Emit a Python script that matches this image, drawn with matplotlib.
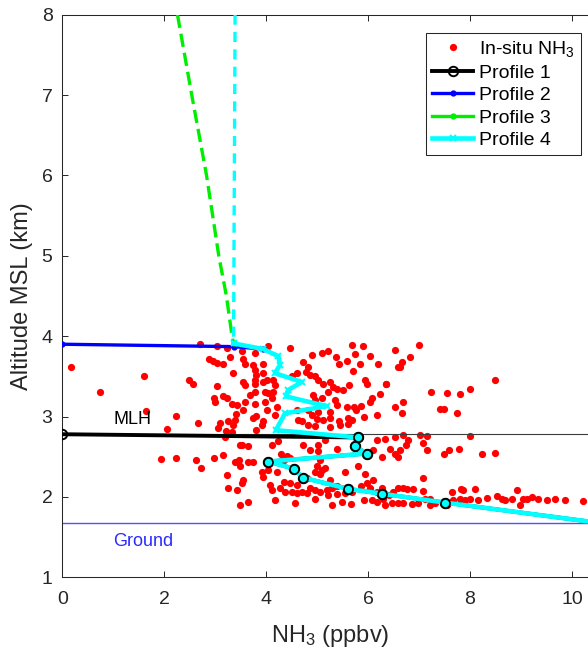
import numpy as np
import matplotlib
matplotlib.use('Agg')
import matplotlib.pyplot as plt

plt.rcParams['font.family'] = ['Liberation Sans', 'DejaVu Sans']
plt.rcParams['mathtext.default'] = 'regular'

# in-situ NH3 (ppbv) vs altitude (km)
insitu_x = [0.18, 2.70, 3.03, 3.23, 2.88, 2.96, 3.04, 3.16, 3.29, 3.34, 1.60, 2.49, 2.57, 3.03, 0.73, 3.16,
            3.23, 2.98, 3.00, 3.33, 1.64, 2.24, 3.41, 2.66, 3.09, 3.06, 3.26, 3.34, 2.05, 3.21, 3.32, 3.19,
            3.49, 1.93, 2.24, 2.62, 2.72, 2.98, 3.15, 3.39, 3.47, 3.24, 3.25, 3.42, 3.49, 3.49,
            4.04, 4.47, 4.89, 5.09, 5.22, 5.37, 5.42, 5.68, 5.89, 5.74, 5.58, 6.04, 5.84, 6.20, 5.71, 4.73,
            4.83, 4.78, 4.86, 4.96, 5.02, 5.12, 5.25, 5.32, 5.38, 5.22, 4.92, 4.96, 5.09, 5.35, 5.38, 5.25,
            5.02, 4.89, 4.99, 5.11, 5.25, 5.43, 5.61, 5.68, 5.76, 5.72, 5.87, 6.04, 6.07, 6.23, 5.97, 5.94,
            6.36, 5.63, 5.51, 4.60, 4.50, 3.55, 3.58, 3.75, 3.94, 3.78, 3.81, 3.94, 4.01, 3.78, 3.55, 3.58,
            3.78, 3.94, 4.14, 4.17, 3.98, 4.04, 4.14, 3.78, 3.68, 4.11, 3.58, 3.55, 3.78, 3.98, 4.01, 4.21,
            3.42, 3.39, 3.81, 3.75, 3.94, 4.17, 4.60, 4.63, 4.70, 4.83, 5.58, 5.91, 6.17, 3.52, 3.78,
            6.53, 7.00, 6.82, 6.67, 6.58, 6.63, 6.35, 8.48, 8.00,
            7.23, 7.54, 7.80, 6.53, 6.69, 6.66, 7.41, 7.49, 7.74, 7.99, 7.02, 7.15, 6.69, 6.53, 6.33, 6.79,
            6.74, 7.08, 7.15, 6.43, 6.63, 6.53, 6.59, 7.49, 7.59, 7.79, 8.23, 8.48, 7.07, 8.92, 6.59, 6.68,
            6.76, 6.89, 7.07, 7.64, 7.82, 7.87, 8.10, 6.49, 6.40, 6.30, 6.33, 6.46, 6.59, 6.69, 6.86, 6.98,
            7.21, 7.31, 7.12, 7.21, 7.67, 7.80, 7.90, 8.00, 8.16, 8.33, 8.52, 8.69, 8.82, 8.98, 9.04, 9.21,
            9.34, 9.50, 9.67, 9.86, 10.22, 8.62, 9.11, 7.54, 6.27,
            3.52, 3.65, 3.65, 3.75, 4.11, 4.24, 4.30, 4.40, 4.34, 4.47, 3.91, 3.94, 4.04, 4.21, 4.34, 4.47,
            4.60, 4.07, 4.11, 4.27, 4.37, 4.50, 4.60, 4.70, 4.86, 4.96, 5.06, 4.80, 5.19, 5.29, 5.38, 5.22,
            5.38, 5.55, 5.68, 5.48, 4.96, 4.57, 3.65, 3.52, 4.17, 4.99, 5.09, 5.15, 5.06, 4.96, 5.06, 5.02,
            4.86, 4.73, 5.15, 5.02, 5.38, 4.83, 4.96, 5.25, 5.45, 5.61, 3.91, 3.81, 6.17, 6.10, 6.27, 5.81,
            5.94, 5.87, 5.97, 6.10, 6.04, 6.17, 5.91, 6.07, 6.17, 5.55, 5.25, 4.80, 3.55, 5.30, 5.66]
insitu_y = [3.62, 3.90, 3.88, 3.85, 3.71, 3.69, 3.67, 3.65, 3.74, 3.54, 3.51, 3.46, 3.41, 3.38, 3.31, 3.26,
            3.23, 3.23, 3.18, 3.16, 3.07, 3.01, 3.03, 2.92, 2.92, 2.86, 2.95, 2.89, 2.85, 2.82, 2.81, 2.74,
            2.65, 2.47, 2.48, 2.46, 2.36, 2.48, 2.52, 2.44, 2.46, 2.27, 2.11, 2.09, 1.90, 2.38,
            3.88, 3.85, 3.76, 3.79, 3.81, 3.74, 3.66, 3.89, 3.88, 3.78, 3.69, 3.75, 3.66, 3.65, 3.57, 3.68,
            3.62, 3.55, 3.52, 3.50, 3.45, 3.41, 3.43, 3.37, 3.34, 3.31, 3.27, 3.21, 3.23, 3.21, 3.14, 3.06,
            3.06, 3.02, 2.97, 2.96, 2.98, 2.95, 2.98, 2.96, 3.08, 3.12, 3.13, 3.18, 3.23, 3.28, 3.40, 3.45,
            3.41, 3.39, 3.33, 3.54, 3.50, 3.72, 3.66, 3.64, 3.66, 3.58, 3.52, 3.54, 3.45, 3.45, 3.43, 3.39,
            3.41, 3.43, 3.45, 3.39, 3.31, 3.29, 3.31, 3.31, 3.27, 3.23, 3.18, 3.08, 3.16, 3.18, 3.08, 3.12,
            3.14, 2.96, 3.01, 2.98, 2.94, 3.02, 3.08, 2.96, 2.95, 3.08, 3.12, 3.00, 3.02, 3.81, 3.79,
            3.83, 3.89, 3.74, 3.68, 3.62, 3.62, 3.41, 3.45, 3.34,
            3.30, 3.29, 3.28, 3.12, 3.18, 3.05, 3.10, 3.09, 3.04, 2.76, 2.77, 2.76, 2.77, 2.74, 2.72, 2.71,
            2.65, 2.67, 2.58, 2.60, 2.58, 2.54, 2.50, 2.54, 2.58, 2.60, 2.54, 2.55, 2.24, 2.09, 2.11, 2.11,
            2.10, 2.10, 2.07, 2.06, 2.10, 2.09, 2.10, 2.06, 2.02, 1.98, 1.90, 1.92, 1.93, 1.92, 1.91, 1.93,
            1.90, 1.92, 1.98, 1.98, 1.96, 1.98, 1.96, 1.98, 1.96, 1.99, 2.01, 1.96, 1.98, 1.90, 1.97, 2.00,
            1.97, 1.96, 1.97, 1.96, 1.95, 1.97, 1.98, 1.90, 2.11,
            2.65, 2.63, 2.44, 2.43, 2.65, 2.69, 2.54, 2.51, 2.46, 2.48, 2.31, 2.25, 2.34, 2.31, 2.19, 2.17,
            2.15, 2.15, 2.09, 2.11, 2.06, 2.06, 2.05, 2.06, 2.11, 2.09, 2.06, 2.05, 2.09, 2.11, 2.13, 2.02,
            2.04, 2.05, 2.06, 1.94, 1.98, 1.92, 1.94, 2.17, 1.96, 2.38, 2.34, 2.36, 2.29, 2.31, 2.46, 2.57,
            2.58, 2.65, 2.71, 2.65, 2.60, 2.89, 2.88, 2.87, 2.89, 2.91, 2.89, 2.83, 2.71, 2.58, 2.50, 2.38,
            2.29, 2.13, 2.17, 2.21, 2.11, 2.06, 1.96, 1.96, 1.94, 2.31, 2.21, 2.23, 2.21, 1.90, 1.91]

# retrieved profiles
p1_x = [0.0, 5.81, 5.74, 5.97, 4.04, 4.55, 4.72, 5.61, 6.27, 7.50, 10.5]
p1_y = [2.78, 2.74, 2.63, 2.54, 2.44, 2.35, 2.24, 2.10, 2.04, 1.93, 1.68]

p2_x = [0.0, 3.36, 3.94]
p2_y = [3.90, 3.87, 3.84]

p3_x = [2.26, 2.54, 2.83, 3.07, 3.22, 3.33, 3.36]
p3_y = [8.0, 7.0, 6.0, 5.0, 4.5, 4.0, 3.91]

p4_top_x = [3.39, 3.36]
p4_top_y = [8.0, 3.91]
p4_x = [3.36, 3.94, 4.24, 4.27, 4.17, 4.70, 4.43, 4.39, 5.19, 4.37, 4.19,
        5.81, 5.74, 5.97, 4.04, 4.55, 4.72, 5.61, 6.27, 7.50, 10.5]
p4_y = [3.91, 3.84, 3.75, 3.64, 3.54, 3.43, 3.33, 3.25, 3.13, 3.04, 2.83,
        2.74, 2.63, 2.54, 2.44, 2.35, 2.24, 2.10, 2.04, 1.93, 1.68]

mlh = 2.78
ground = 1.68

fig = plt.figure(figsize=(5.88, 6.53), dpi=100)
W, H = 588.0, 653.0
# axes runs past the right edge of the picture (cropped like the original)
ax = fig.add_axes([62.3 / W, 75.7 / H, 12 * 50.97 / W, 562.6 / H])

ax.plot(insitu_x, insitu_y, 'o', color='red', ms=5.2, mec='none', zorder=2, label='In-situ NH$_3$')
ax.axhline(mlh, color='#3c3c3c', lw=0.8, zorder=2.5)
ax.axhline(ground, color='#5050ff', lw=1.0, zorder=2.5)

l1, = ax.plot(p1_x, p1_y, '-o', color='black', lw=2.8, ms=6.8, mfc='none', mew=1.4, zorder=4, label='Profile 1')
l2, = ax.plot(p2_x, p2_y, '-o', color='#0000ff', lw=2.4, ms=3.5, zorder=4, label='Profile 2')
ax.plot(p3_x, p3_y, color='#00ee00', lw=2.4, dashes=(4, 1.8), zorder=5)
l3, = ax.plot(p3_x[-1:], p3_y[-1:], '-o', color='#00ee00', lw=2.4, ms=3.5, zorder=5, label='Profile 3')
ax.plot(p4_top_x, p4_top_y, color='cyan', lw=2.4, dashes=(3, 2.2), zorder=6)
l4, = ax.plot(p4_x, p4_y, '-x', color='cyan', lw=3.3, ms=4, mew=1.5, zorder=6, label='Profile 4')
# profile 1 circles where they sit on the cyan line
ax.plot(p1_x[1:], p1_y[1:], 'o', ms=6.5, mfc='cyan', mec='black', mew=1.2, zorder=7)

ax.text(1.37, 2.96, 'MLH', fontsize=13, ha='center', va='center', color='black')
ax.text(1.59, 1.45, 'Ground', fontsize=13, ha='center', va='center', color='#2a2aff')

ax.set_xlim(0, 12)
ax.set_ylim(1, 8)
ax.set_xticks(np.arange(0, 11, 2))
ax.set_yticks(np.arange(1, 9, 1))
ax.tick_params(direction='in', length=4, width=0.7, colors='#262626', labelsize=14,
               top=True, right=True)
ax.tick_params(axis='x', pad=10)
ax.tick_params(axis='y', pad=7)
for s in ax.spines.values():
    s.set_color('#262626')
    s.set_linewidth(0.75)

fig.text(330 / W, 1 - 636 / H, 'NH$_3$ (ppbv)', fontsize=17, ha='center', va='center', color='#262626')
fig.text(22.5 / W, 1 - 296 / H, 'Altitude MSL (km)', fontsize=17, rotation=90,
         ha='center', va='center', color='#262626')

leg = ax.legend(handles=[ax.lines[0], l1, l2, l3, l4],
                loc='upper right', bbox_to_anchor=(581 / W, 1 - 33.3 / H), bbox_transform=fig.transFigure,
                borderaxespad=0, fontsize=14, handlelength=2.15, handletextpad=0.3, borderpad=0.3,
                labelspacing=0.25, fancybox=False, framealpha=1, edgecolor='#262626')
leg.get_frame().set_linewidth(0.75)

fig.savefig('out.png', dpi=100)
